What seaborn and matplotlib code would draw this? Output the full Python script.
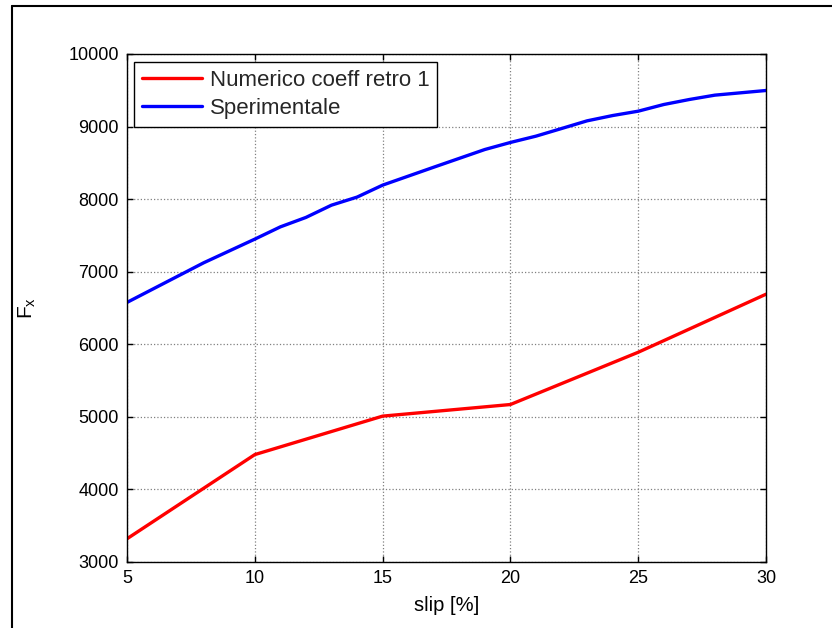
import matplotlib
matplotlib.use("Agg")
import matplotlib.pyplot as plt
import seaborn as sns
import pandas as pd
from matplotlib.lines import Line2D

# Data
slip_num = [5, 10, 15, 20, 25, 30]
fx_num = [3320, 4480, 5010, 5170, 5890, 6690]

slip_exp = [5, 8, 10, 11, 12, 13, 14, 15, 17, 19, 20, 21, 22, 23, 24, 25, 26, 27, 28, 30]
fx_exp = [6577, 7123, 7449, 7618, 7748, 7917, 8028, 8193, 8440, 8684, 8781, 8868,
          8973, 9079, 9152, 9212, 9304, 9373, 9433, 9497]

label_num = "Numerico coeff retro 1"
label_exp = "Sperimentale"

df = pd.concat([
    pd.DataFrame({"slip": slip_num, "Fx": fx_num, "serie": label_num}),
    pd.DataFrame({"slip": slip_exp, "Fx": fx_exp, "serie": label_exp}),
])

sns.set_theme(style="white")
plt.rcParams['font.family'] = ['Liberation Sans', 'DejaVu Sans']

fig = plt.figure(figsize=(8.32, 6.28), dpi=100)
ax = fig.add_axes([127/832, (628-562)/628, 639/832, 508/628])

sns.lineplot(data=df, x="slip", y="Fx", hue="serie",
             palette={label_num: "#ff0000", label_exp: "#0000ff"},
             linewidth=2.4, ax=ax, legend=False, sort=False)

ax.set_xlim(5, 30)
ax.set_ylim(3000, 10000)
ax.set_xticks([5, 10, 15, 20, 25, 30])
ax.set_yticks(range(3000, 10001, 1000))
ax.grid(True, color="#808080", linestyle=":", linewidth=0.9)
for s in ax.spines.values():
    s.set_color("black")
    s.set_linewidth(1.0)
ax.tick_params(direction="in", length=4, width=1, colors="black",
               labelsize=13, top=True, right=True, bottom=True, left=True, pad=6)
ax.set_xlabel("slip [%]", fontsize=14.5, color="black", labelpad=6)
ax.set_ylabel("F$_\\mathregular{x}$", fontsize=15, color="black", labelpad=22)

handles = [Line2D([], [], color="#ff0000", lw=2.4),
           Line2D([], [], color="#0000ff", lw=2.4)]
leg = ax.legend(handles, [label_num, label_exp], loc="upper left",
                bbox_to_anchor=(0.011, 0.984), fontsize=16, frameon=True,
                fancybox=False, edgecolor="black", framealpha=1,
                borderaxespad=0, handlelength=2.7, borderpad=0.35,
                labelspacing=0.32, handletextpad=0.35)
leg.get_frame().set_linewidth(1.0)

# Outer frame lines (top and left)
fig.add_artist(Line2D([12/832, 1], [1-6/628, 1-6/628], color="black", lw=1.5,
                      transform=fig.transFigure))
fig.add_artist(Line2D([12/832, 12/832], [0, 1-6/628], color="black", lw=1.5,
                      transform=fig.transFigure))

fig.savefig("out.png", dpi=100)
